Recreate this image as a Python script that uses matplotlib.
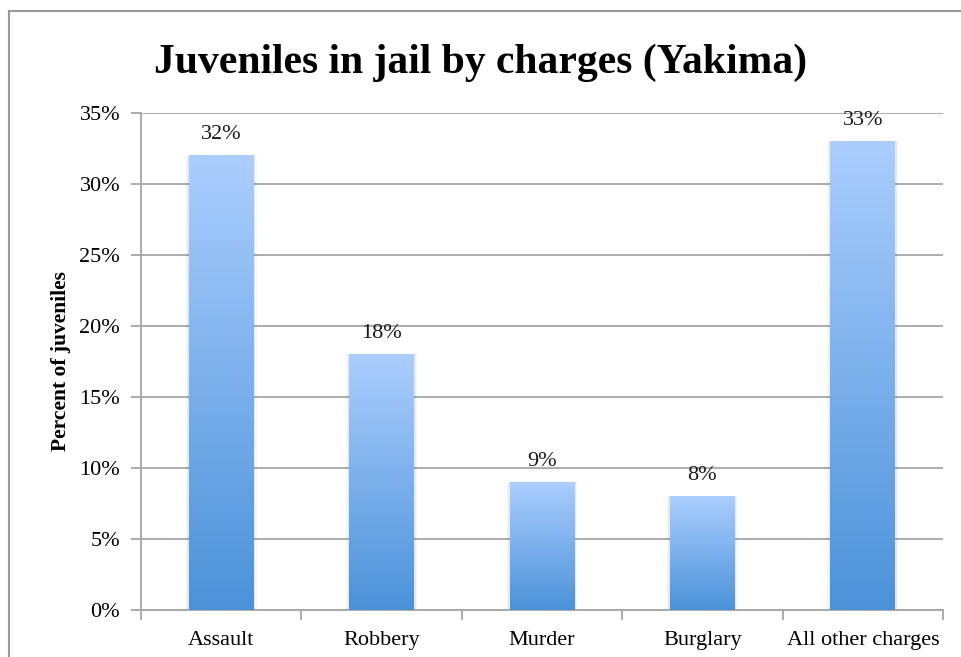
import matplotlib.pyplot as plt
import numpy as np
from matplotlib.colors import LinearSegmentedColormap
from matplotlib.lines import Line2D

plt.rcParams["font.family"] = "Liberation Serif"

charges = ["Assault", "Robbery", "Murder", "Burglary", "All other charges"]
percent = [32, 18, 9, 8, 33]
yticks = [0, 5, 10, 15, 20, 25, 30, 35]

GRID = "#a6a6a6"
BAR_W = 0.405

# light blue at the top fading to a deeper blue at the base
blues = LinearSegmentedColormap.from_list("blues", ["#4b92d9", "#abcefe"])
grad = np.linspace(0, 1, 256).reshape(-1, 1)

fig = plt.figure(figsize=(9.61, 6.57), dpi=100)
ax = fig.add_axes([0.1467, 0.0715, 0.8346, 0.7565])

for i, val in enumerate(percent):
    x0 = i - BAR_W / 2
    # soft shadow down the sides of each bar
    for pad, a in [(0.018, 0.035), (0.009, 0.05)]:
        ax.add_patch(plt.Rectangle((x0 - pad, 0), BAR_W + 2 * pad, val,
                                   facecolor="#000000", alpha=a, lw=0, zorder=2))
    ax.imshow(grad, extent=[x0, x0 + BAR_W, 0, val], origin="lower",
              aspect="auto", cmap=blues, zorder=3)
    ax.text(i, val + 0.8, "%d%%" % val, ha="center", va="bottom",
            fontsize=16, color="#1a1a1a", zorder=4)

ax.set_xlim(-0.5, len(charges) - 0.5)
ax.set_ylim(0, 35)
ax.set_yticks(yticks)
ax.set_yticklabels(["%d%%" % t for t in yticks], fontsize=16)
ax.yaxis.grid(True, color=GRID, lw=1.3, zorder=1)
ax.set_axisbelow(True)

ax.set_xticks(range(len(charges)))
ax.set_xticklabels(charges, fontsize=16)
ax.tick_params(axis="x", length=0, pad=15)
ax.set_xticks(np.arange(-0.5, len(charges)), minor=True)
ax.tick_params(axis="x", which="minor", length=7, color=GRID, width=1.3)
ax.tick_params(axis="y", length=7, color=GRID, width=1.3, pad=8)

for s in ["top", "right"]:
    ax.spines[s].set_visible(False)
for s in ["left", "bottom"]:
    ax.spines[s].set_color(GRID)
    ax.spines[s].set_linewidth(1.3)

ax.set_ylabel("Percent of juveniles", fontsize=15.5, fontweight="bold", labelpad=6)
fig.text(0.5, 0.905, "Juveniles in jail by charges (Yakima)", ha="center",
         va="center", fontsize=30, fontweight="bold")

# chart frame
fig.add_artist(Line2D([0.0094, 1.0], [1 - 11 / 657, 1 - 11 / 657], color="#999999", lw=1.5))
fig.add_artist(Line2D([0.0094, 0.0094], [0, 1 - 11 / 657], color="#999999", lw=1.5))

fig.savefig("out.png", dpi=100)
